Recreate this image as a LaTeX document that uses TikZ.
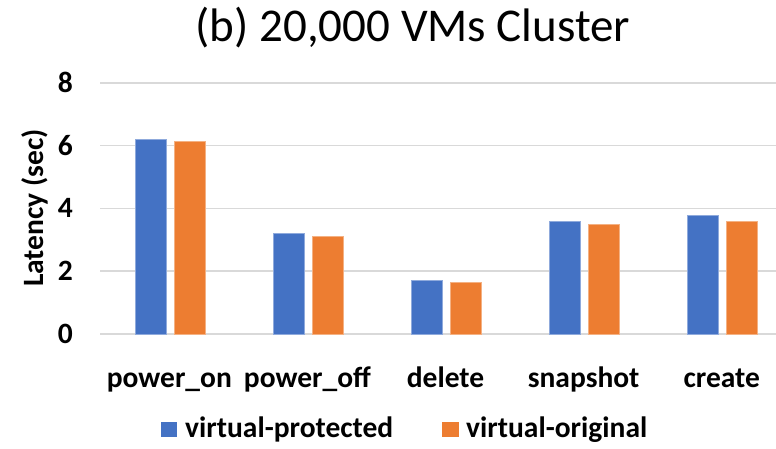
\documentclass[tikz,border=0pt]{standalone}
\usepackage{fontspec}
\setmainfont{Carlito}
\definecolor{barblue}{HTML}{4472C4}
\definecolor{barorange}{HTML}{ED7D31}
\definecolor{gridgray}{HTML}{D9D9D9}
\begin{document}
\begin{tikzpicture}[x=1pt,y=1pt,
  gridline/.style={draw=gridgray,line width=1.5pt},
  lbl/.style={font=\fontsize{29.5}{32}\bfseries\selectfont,inner sep=0pt},
  titlefont/.style={font=\fontsize{47}{50}\selectfont,inner sep=0pt},
  bluebar/.style={fill=barblue,draw=barblue!60!white,line width=0.6pt},
  orangebar/.style={fill=barorange,draw=barorange!60!white,line width=0.6pt}]
\useasboundingbox (0,0) rectangle (776,448);
\fill[white] (0,0) rectangle (776,448);
% grid lines and y tick labels
\foreach \k in {0,2,4,6,8}{
  \draw[gridline] (100,{114+31.4*\k}) -- (776,{114+31.4*\k});
  \node[lbl,anchor=east] (tick\k) at (73,{114+31.4*\k}) {\k};
}
% bars
\foreach \i/\b/\o/\name in {0/6.2/6.15/power\_on,1/3.2/3.1/power\_off,2/1.7/1.65/delete,3/3.6/3.5/snapshot,4/3.77/3.6/create}{
  \pgfmathsetmacro{\c}{169.3+138.1*\i}
  \draw[bluebar] ({\c-34.5},114) rectangle ({\c-3.5},{114+31.4*\b});
  \draw[orangebar] ({\c+5},114) rectangle ({\c+35.5},{114+31.4*\o});
  \node[lbl,anchor=base] (cat\i) at (\c,61) {\name};
}
% axis title
\node[lbl,rotate=90] (ylab) at (35,240) {Latency (sec)};
% title
\node[titlefont,anchor=base] (title) at (413,406) {(b) 20,000 VMs Cluster};
% legend
\fill[barblue] (161,11) rectangle (177,26);
\node[lbl,anchor=base west] (leg1) at (185,11) {virtual-protected};
\fill[barorange] (442,11) rectangle (459,26);
\node[lbl,anchor=base west] (leg2) at (466,11) {virtual-original};
\end{tikzpicture}
\end{document}
